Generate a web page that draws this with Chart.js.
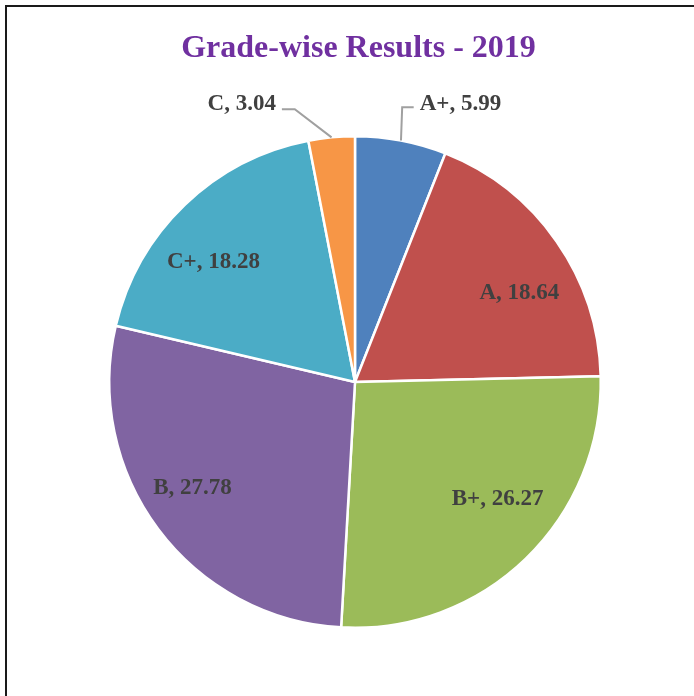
<!DOCTYPE html>
<html>
<head>
<meta charset="utf-8">
<script src="https://cdn.jsdelivr.net/npm/chart.js@4/dist/chart.umd.min.js"></script>
<style>
  html, body { margin: 0; padding: 0; background: #fff; }
  #wrap { position: relative; width: 694px; height: 696px; overflow: hidden; }
  #frame {
    position: absolute; left: 5px; top: 5px; width: 700px; height: 700px;
    border-left: 2px solid #1a1a1a; border-top: 2px solid #1a1a1a;
  }
  canvas { position: absolute; left: 0; top: 0; }
</style>
</head>
<body>
<div id="wrap">
  <div id="frame"></div>
  <canvas id="gradeChart" width="694" height="696"></canvas>
</div>
<script>
const grades = ["A+", "A", "B+", "B", "C+", "C"]
const percents = [5.99, 18.64, 26.27, 27.78, 18.28, 3.04]
const sliceColors = ["#4F81BD", "#C0504D", "#9BBB59", "#8064A2", "#4BACC6", "#F79646"]

// label anchor (text centre x, baseline y) in units of the pie radius, from the centre
const labelOffsets = [
  [0.429, -1.106],
  [0.669, -0.339],
  [0.580, 0.502],
  [-0.661, 0.457],
  [-0.576, -0.465],
  [-0.461, -1.106],
]
// elbow of the leader line for the labels that sit outside the pie
const leaderElbows = { 0: [0.192, -1.118], 5: [-0.245, -1.110] }

const pieLabels = {
  id: "pieLabels",
  afterDatasetsDraw(chart) {
    const ctx = chart.ctx
    const arcs = chart.getDatasetMeta(0).data
    ctx.save()

    // title
    ctx.font = "bold 32px 'Liberation Serif', 'Times New Roman', serif"
    ctx.fillStyle = "#7030A0"
    ctx.textAlign = "center"
    ctx.textBaseline = "alphabetic"
    ctx.fillText("Grade-wise Results - 2019", 358.5, 57)

    ctx.font = "bold 23px 'Liberation Serif', 'Times New Roman', serif"
    arcs.forEach((arc, i) => {
      const r = arc.outerRadius
      const text = grades[i] + ", " + percents[i].toFixed(2)
      const tx = arc.x + labelOffsets[i][0] * r
      const ty = arc.y + labelOffsets[i][1] * r

      if (leaderElbows[i]) {
        const mid = (arc.startAngle + arc.endAngle) / 2
        const ex = arc.x + Math.cos(mid) * r
        const ey = arc.y + Math.sin(mid) * r
        const bx = arc.x + leaderElbows[i][0] * r
        const by = arc.y + leaderElbows[i][1] * r
        const w = ctx.measureText(text).width
        const side = bx > tx ? tx + w / 2 + 6 : tx - w / 2 - 6
        ctx.strokeStyle = "#A0A0A0"
        ctx.lineWidth = 2
        ctx.beginPath()
        ctx.moveTo(ex, ey)
        ctx.lineTo(bx, by)
        ctx.lineTo(side, by)
        ctx.stroke()
      }

      ctx.fillStyle = "#404040"
      ctx.fillText(text, tx, ty)
    })
    ctx.restore()
  },
}

const ctx = document.getElementById("gradeChart").getContext("2d")
const gradeChart = new Chart(ctx, {
  type: "pie",
  data: {
    labels: grades,
    datasets: [
      {
        data: percents,
        backgroundColor: sliceColors,
        borderColor: "#ffffff",
        borderWidth: 2.5,
      },
    ],
  },
  options: {
    responsive: false,
    animation: false,
    layout: {
      padding: { left: 108, right: 92, top: 135, bottom: 67 },
    },
    plugins: {
      legend: { display: false },
      tooltip: { enabled: false },
      title: { display: false },
    },
  },
  plugins: [pieLabels],
})
</script>
</body>
</html>
